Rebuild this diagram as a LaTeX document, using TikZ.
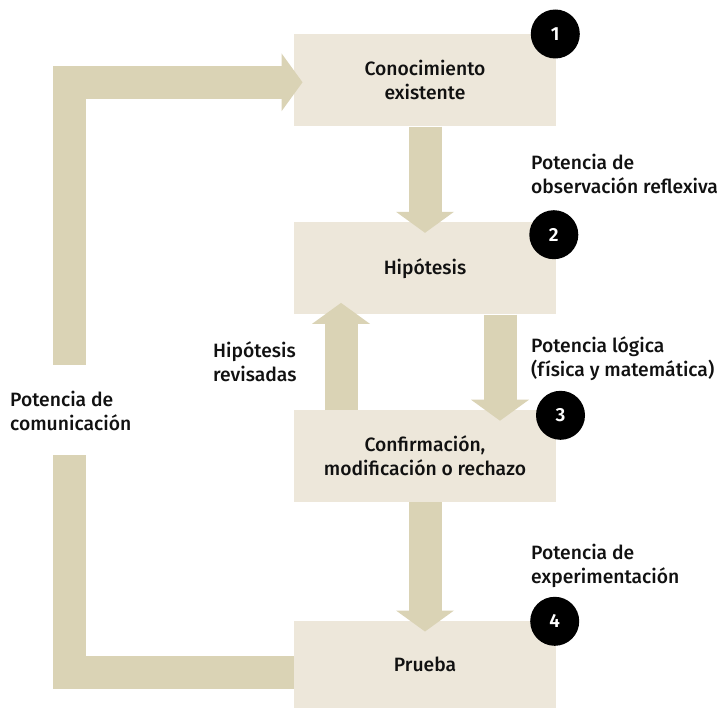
\documentclass[tikz,border=0pt]{standalone}
\usepackage{fontspec}
\setmainfont{Fira Sans}[UprightFont=* Medium, BoldFont=* SemiBold]
\usetikzlibrary{arrows.meta,calc}
\definecolor{boxc}{HTML}{EDE7DA}
\definecolor{arrc}{HTML}{DAD3B5}
\definecolor{txtc}{HTML}{111111}
\begin{document}
\begin{tikzpicture}[x=1pt,y=-1pt,
  stepbox/.style={fill=boxc, draw=none, minimum width=262pt, minimum height=92pt, inner sep=0pt, align=center, font=\fontsize{19.3}{24}\selectfont, text=txtc},
  numc/.style={circle, fill=black, minimum size=49pt, inner sep=0pt, text=white, font=\bfseries\fontsize{19}{19}\selectfont},
  lab/.style={anchor=base west, align=left, inner sep=0pt, font=\fontsize{19.3}{24}\selectfont, text=txtc},
  shaft/.style={draw=arrc, line width=33pt, line join=miter},
  blk/.style={shaft, -{Triangle[width=58pt,length=21pt,line width=0pt]}},
]
\useasboundingbox (0,0) rectangle (727,708);
% boxes
\node[stepbox] (b1) at (425,80.4) {Conocimiento\\existente};
\node[stepbox] (b2) at (425,268.3) {Hipótesis};
\node[stepbox] (b3) at (425,456.2) {Confirmación,\\modificación o rechazo};
\node[stepbox, minimum height=87pt] (b4) at (425,664.5) {Prueba};
% vertical arrows
\draw[blk] (b1.south) -- ($(b2.north)+(0,10.7)$);
\draw[blk] ($(b2.south)+(75,0)$) -- ($(b3.north)+(75,10.7)$);
\draw[blk] ($(b3.north)+(-84,0)$) -- ($(b2.south)+(-84,-11.6)$);
\draw[blk] (b3.south) -- ($(b4.north)+(0,10.7)$);
% communication loop
\coordinate (lb) at (69.7,455);
\coordinate (lt) at (69.7,364.7);
\draw[shaft] ($(b4.west)+(0,7.5)$) -| (lb);
\draw[blk] (lt) |- ($(b1.west)+(8.7,1.9)$);
% numbers
\node[numc] (c1) at (555.3,34) {1};
\node[numc] (c2) at (553.8,234.7) {2};
\node[numc] (c3) at (560.5,415.3) {3};
\node[numc] (c4) at (554.7,621.3) {4};
% labels (base = last line)
\node[lab] (l1) at (531,193.5) {Potencia de\\observación reflexiva};
\node[lab] (l2) at (531,376.5) {Potencia lógica\\(física y matemática)};
\node[lab] (l3) at (531,583.5) {Potencia de\\experimentación};
\node[lab] (l4) at (213,381) {Hipótesis\\revisadas};
\node[lab] (l5) at (10,430) {Potencia de\\comunicación};
\end{tikzpicture}
\end{document}
